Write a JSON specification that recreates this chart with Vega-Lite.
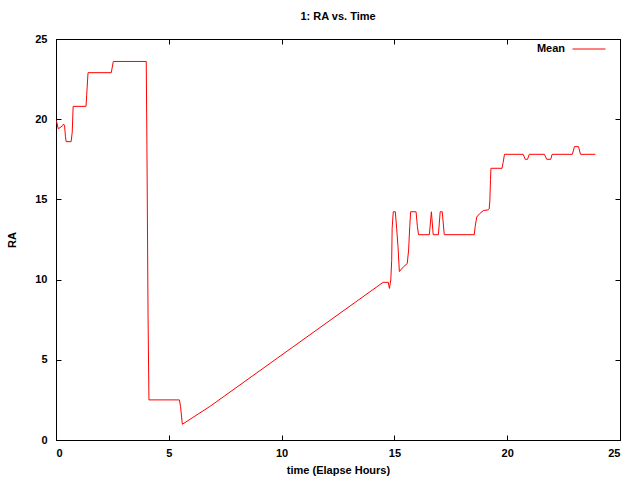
{
  "$schema": "https://vega.github.io/schema/vega-lite/v6.json",
  "width": 564,
  "height": 401,
  "autosize": {"type": "none"},
  "padding": {"left": 56, "top": 39, "right": 20, "bottom": 40},
  "background": "white",
  "title": {"text": "1: RA vs. Time", "font": "Liberation Sans", "fontSize": 11, "fontWeight": "bold", "color": "black", "offset": 10, "anchor": "middle"},
  "config": {
    "view": {"stroke": "black", "strokeWidth": 1},
    "axis": {"labelFont": "Liberation Sans", "labelFontSize": 11, "labelFontWeight": "bold", "labelColor": "black", "titleFont": "Liberation Sans", "titleFontSize": 11, "titleFontWeight": "bold", "titleColor": "black", "domainColor": "black", "tickColor": "black", "tickSize": -5, "grid": false},
    "legend": {"labelFont": "Liberation Sans", "labelFontSize": 11, "labelFontWeight": "bold", "labelColor": "black"}
  },
  "data": {"values": [
    {"t": 0, "ra": 19.9}, {"t": 0.02, "ra": 19.9}, {"t": 0.1, "ra": 19.4}, {"t": 0.3, "ra": 19.6}, {"t": 0.33, "ra": 19.7}, {"t": 0.38, "ra": 19.6}, {"t": 0.42, "ra": 18.9}, {"t": 0.45, "ra": 18.6}, {"t": 0.67, "ra": 18.6}, {"t": 0.72, "ra": 19.2}, {"t": 0.76, "ra": 20.8}, {"t": 1.33, "ra": 20.8}, {"t": 1.36, "ra": 21.5}, {"t": 1.42, "ra": 22.9}, {"t": 2.45, "ra": 22.9}, {"t": 2.54, "ra": 23.6}, {"t": 4.0, "ra": 23.6}, {"t": 4.03, "ra": 18.4}, {"t": 4.08, "ra": 7.8}, {"t": 4.12, "ra": 2.5}, {"t": 5.47, "ra": 2.5}, {"t": 5.52, "ra": 2.1}, {"t": 5.6, "ra": 0.98}, {"t": 6.83, "ra": 2.1}, {"t": 14.5, "ra": 9.83}, {"t": 14.73, "ra": 9.83}, {"t": 14.78, "ra": 9.45}, {"t": 14.84, "ra": 9.98}, {"t": 14.88, "ra": 11.2}, {"t": 14.9, "ra": 13.2}, {"t": 14.95, "ra": 14.23}, {"t": 15.04, "ra": 14.23}, {"t": 15.1, "ra": 13.2}, {"t": 15.16, "ra": 12.05}, {"t": 15.22, "ra": 10.5}, {"t": 15.4, "ra": 10.8}, {"t": 15.57, "ra": 11.0}, {"t": 15.63, "ra": 11.85}, {"t": 15.68, "ra": 13.3}, {"t": 15.72, "ra": 14.23}, {"t": 15.96, "ra": 14.23}, {"t": 16.02, "ra": 13.3}, {"t": 16.07, "ra": 12.8}, {"t": 16.55, "ra": 12.8}, {"t": 16.64, "ra": 14.23}, {"t": 16.72, "ra": 12.8}, {"t": 16.95, "ra": 12.8}, {"t": 17.03, "ra": 14.23}, {"t": 17.12, "ra": 14.23}, {"t": 17.21, "ra": 12.8}, {"t": 18.54, "ra": 12.8}, {"t": 18.58, "ra": 13.3}, {"t": 18.65, "ra": 13.9}, {"t": 18.77, "ra": 14.1}, {"t": 18.94, "ra": 14.3}, {"t": 19.16, "ra": 14.35}, {"t": 19.2, "ra": 14.4}, {"t": 19.23, "ra": 14.9}, {"t": 19.26, "ra": 16.25}, {"t": 19.28, "ra": 16.94}, {"t": 19.77, "ra": 16.94}, {"t": 19.82, "ra": 17.3}, {"t": 19.88, "ra": 17.81}, {"t": 20.71, "ra": 17.81}, {"t": 20.8, "ra": 17.5}, {"t": 20.9, "ra": 17.5}, {"t": 20.98, "ra": 17.81}, {"t": 21.65, "ra": 17.81}, {"t": 21.75, "ra": 17.5}, {"t": 21.93, "ra": 17.5}, {"t": 21.99, "ra": 17.81}, {"t": 22.89, "ra": 17.81}, {"t": 22.98, "ra": 18.29}, {"t": 23.16, "ra": 18.29}, {"t": 23.25, "ra": 17.81}, {"t": 23.91, "ra": 17.81}
  ]},
  "layer": [
    {
      "mark": {"type": "line", "strokeWidth": 1, "interpolate": "linear"},
      "encoding": {
        "x": {"field": "t", "type": "quantitative", "scale": {"domain": [0, 25], "nice": false}, "axis": {"values": [0, 5, 10, 15, 20, 25], "title": "time (Elapse Hours)", "labelPadding": 12, "titlePadding": 6}},
        "y": {"field": "ra", "type": "quantitative", "scale": {"domain": [0, 25], "nice": false}, "axis": {"values": [0, 5, 10, 15, 20, 25], "title": "RA", "labelPadding": 14, "titlePadding": 17}},
        "color": {"datum": "Mean", "type": "nominal", "scale": {"range": ["#ff0000"]}, "legend": {"title": null, "orient": "none", "legendX": 516, "legendY": -7, "symbolType": "stroke", "symbolSize": 1089, "symbolStrokeWidth": 1, "labelAlign": "right", "labelOffset": -41}}
      }
    },
    {
      "mark": {"type": "line", "strokeWidth": 0, "opacity": 0},
      "encoding": {
        "x": {"field": "t", "type": "quantitative", "axis": {"orient": "top", "values": [0, 5, 10, 15, 20, 25], "labels": false, "title": null}},
        "y": {"field": "ra", "type": "quantitative", "axis": {"orient": "right", "values": [0, 5, 10, 15, 20, 25], "labels": false, "title": null}}
      }
    }
  ],
  "resolve": {"axis": {"x": "independent", "y": "independent"}}
}
